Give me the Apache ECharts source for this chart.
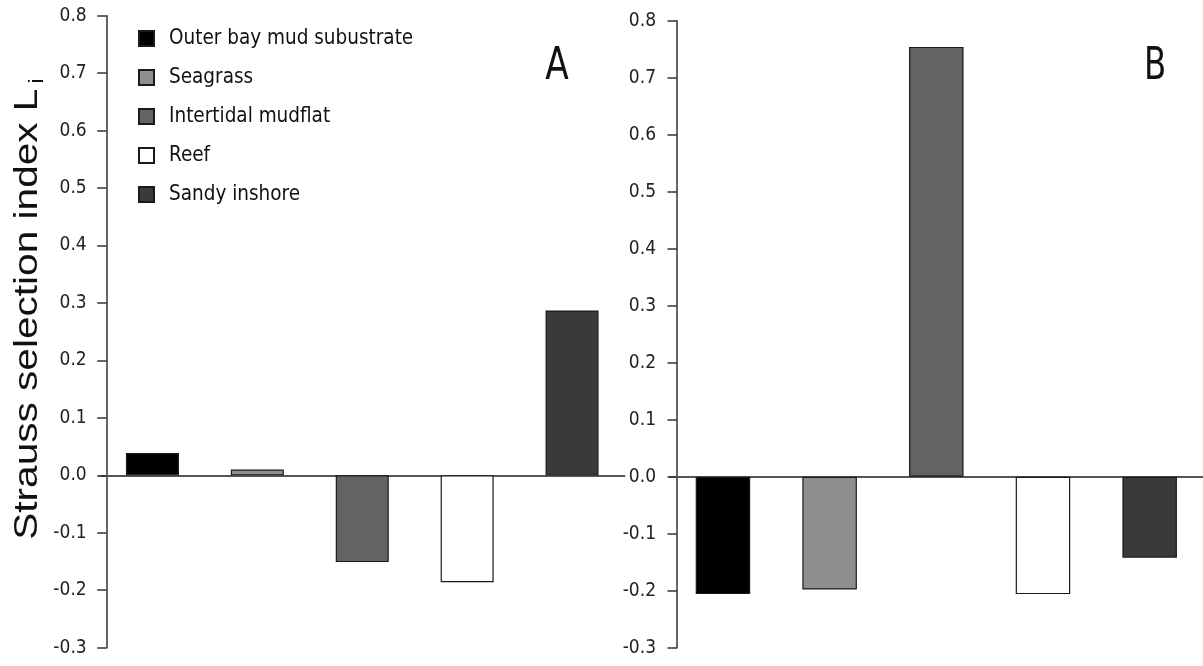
<!DOCTYPE html>
<html>
<head>
<meta charset="utf-8">
<style>
  html, body { margin: 0; padding: 0; background: #fff; }
  #chart { width: 1203px; height: 666px; }
</style>
<script src="https://cdn.jsdelivr.net/npm/echarts@6/dist/echarts.min.js"></script>
</head>
<body>
<div id="chart"></div>
<script>
// Habitat types (one bar each per panel)
const habitats = ['Outer bay mud subustrate', 'Seagrass', 'Intertidal mudflat', 'Reef', 'Sandy inshore'];
const habitatColors = ['#000000', '#8f8f8f', '#636363', '#ffffff', '#3a3a3a'];
// Strauss selection index per habitat
const valuesA = [0.039, 0.010, -0.151, -0.186, 0.287];
const valuesB = [-0.206, -0.198, 0.754, -0.206, -0.142];
// Y-axis range and step shared by both panels
const yMin = -0.3, yMax = 0.8, yStep = 0.1;

const narrow = "'Liberation Sans Narrow', 'DejaVu Sans Condensed', 'Liberation Sans', sans-serif";

const chart = echarts.init(document.getElementById('chart'));

function panelSeries(values, idx, stackName, barWidth) {
  return habitats.map((name, i) => ({
    name: name,
    type: 'bar',
    xAxisIndex: idx,
    yAxisIndex: idx,
    stack: stackName,
    barWidth: barWidth,
    itemStyle: { color: habitatColors[i], borderColor: '#1a1a1a', borderWidth: 1.2 },
    emphasis: { disabled: true },
    data: habitats.map((_, j) => (j === i ? values[i] : null))
  }));
}

function xAxisDef(idx) {
  return {
    type: 'category',
    gridIndex: idx,
    data: habitats,
    boundaryGap: true,
    axisLine: { onZero: true, lineStyle: { color: '#555', width: 2 } },
    axisTick: { show: false },
    axisLabel: { show: false },
    splitLine: { show: false }
  };
}

function yAxisDef(idx, offset, margin) {
  return {
    type: 'value',
    gridIndex: idx,
    min: yMin,
    max: yMax,
    interval: yStep,
    offset: offset,
    axisLine: { show: true, onZero: false, lineStyle: { color: '#333', width: 1.5 } },
    axisTick: { show: true, length: 9.5, lineStyle: { color: '#333', width: 1.5 } },
    axisLabel: {
      margin: margin,
      fontFamily: narrow,
      fontSize: 19,
      color: '#222',
      formatter: v => v.toFixed(1)
    },
    splitLine: { show: false }
  };
}

const option = {
  backgroundColor: '#ffffff',
  animation: false,
  grid: [
    { left: 100, width: 524.5, top: 15.7, bottom: 18.3, containLabel: false },
    { left: 669.6, width: 543.75, top: 20.7, bottom: 18.3, containLabel: false }
  ],
  xAxis: [xAxisDef(0), xAxisDef(1)],
  yAxis: [yAxisDef(0, -6.7, 20), yAxisDef(1, -7.4, 21)],
  legend: {
    orient: 'vertical',
    left: 133,
    top: 21,
    itemWidth: 15,
    itemHeight: 15,
    itemGap: 14,
    icon: 'rect',
    selectedMode: false,
    data: habitats,
    textStyle: {
      fontFamily: narrow,
      fontSize: 20.5,
      lineHeight: 25,
      color: '#111',
      padding: [0, 0, 0, 10]
    }
  },
  graphic: [
    {
      type: 'text',
      x: 28,
      y: 309,
      rotation: Math.PI / 2,
      scaleX: 1.23,
      style: {
        text: '{m|Strauss selection index L}{s|i}',
        align: 'center',
        verticalAlign: 'middle',
        rich: {
          m: { fontFamily: "'Liberation Sans', Arial, sans-serif", fontSize: 33, fill: '#111' },
          s: { fontFamily: "'Liberation Sans', Arial, sans-serif", fontSize: 20, fill: '#111', padding: [18, 0, 0, 4] }
        }
      }
    },
    {
      type: 'text',
      x: 557,
      y: 67,
      scaleX: 0.85,
      style: { text: 'A', fontFamily: narrow, fontSize: 45, fill: '#111', align: 'center', verticalAlign: 'middle' }
    },
    {
      type: 'text',
      x: 1155,
      y: 67,
      scaleX: 0.8,
      style: { text: 'B', fontFamily: narrow, fontSize: 45, fill: '#111', align: 'center', verticalAlign: 'middle' }
    }
  ],
  series: [
    ...panelSeries(valuesA, 0, 'panelA', 53),
    ...panelSeries(valuesB, 1, 'panelB', 54.5)
  ]
};

chart.setOption(option);
</script>
</body>
</html>
